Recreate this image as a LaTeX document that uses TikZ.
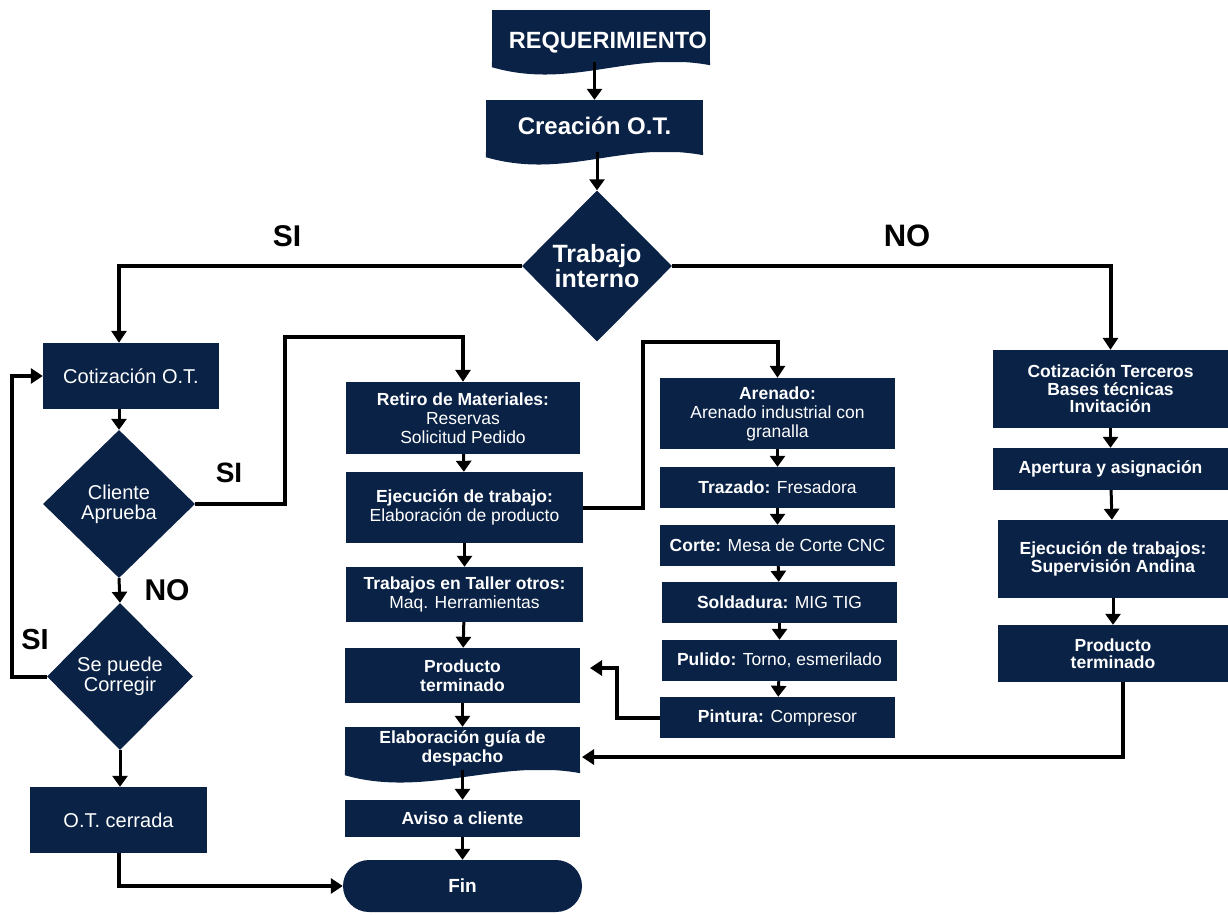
\documentclass[tikz,border=0pt]{standalone}
\usepackage{fontspec}
\setmainfont{Liberation Sans}
\usetikzlibrary{shapes.geometric,arrows.meta,calc}
\definecolor{navy}{HTML}{0A2246}
\newcommand\docwave[1]{\fill[navy] (#1.south west) -- (#1.south east) -- ($(#1.south east)+(0,3)$) .. controls ($(#1.south east)+(-80,-12)$) and ($(#1.south west)+(80,28)$) .. ($(#1.south west)+(0,5)$) -- cycle;}
\tikzset{
  box/.style={rectangle, fill=navy, text=white, align=center, inner sep=1pt, font=\fontsize{17.5}{19}\selectfont},
  rbox/.style={box, font=\fontsize{17.5}{17.5}\selectfont\bfseries},
  dia/.style={diamond, fill=navy, text=white, align=center, inner sep=0pt, font=\fontsize{20}{20}\selectfont},
  lbl/.style={text=black, inner sep=0pt, font=\fontsize{30}{30}\selectfont\bfseries},
  flow/.style={draw=black, line width=3pt, -{Triangle[width=15pt,length=11pt]}},
  conn/.style={draw=black, line width=4pt, -{Triangle[width=15pt,length=12pt]}},
  plain/.style={draw=black, line width=4pt}
}
\begin{document}
\begin{tikzpicture}[x=1pt,y=-1pt]
\useasboundingbox[fill=white] (0,0) rectangle (1228,914);

% top
\node[box, minimum width=218pt, minimum height=52pt, text height=25pt, text depth=0pt, font=\fontsize{23.5}{24}\selectfont\bfseries] (req) at (601,36) {\hspace*{14pt}REQUERIMIENTO};
\docwave{req}
\node[box, minimum width=217pt, minimum height=52pt, font=\fontsize{24}{24}\selectfont\bfseries] (crea) at (594.5,126) {Creación O.T.};
\docwave{crea}
\node[dia, minimum width=150pt, minimum height=151pt, font=\fontsize{25}{25}\selectfont\bfseries] (ti) at (597,266) {Trabajo\\interno};

% left column
\node[box, minimum width=176pt, minimum height=66pt, font=\fontsize{20}{20}\selectfont] (cot) at (131,376) {Cotización O.T.};
\node[dia, minimum width=152pt, minimum height=148pt] (cli) at (119,504) {Cliente\\Aprueba};
\node[dia, minimum width=146pt, minimum height=147pt] (spc) at (120,676.5) {Se puede\\Corregir};
\node[box, minimum width=177pt, minimum height=66pt, font=\fontsize{20}{20}\selectfont] (otc) at (118.5,820) {O.T. cerrada};

% central column
\node[box, minimum width=234pt, minimum height=72pt] (ret) at (463,418) {\textbf{Retiro de Materiales:}\\Reservas\\Solicitud Pedido};
\node[box, minimum width=237pt, minimum height=71pt] (eje) at (464.5,507.5) {\textbf{Ejecución de trabajo:}\\Elaboración de producto};
\node[box, minimum width=237pt, minimum height=55pt] (tal) at (464.5,594.5) {\textbf{Trabajos en Taller otros:}\\Maq. Herramientas};
\node[box, minimum width=235pt, minimum height=55pt, font=\fontsize{17.5}{19}\selectfont\bfseries] (prod) at (462.5,675.5) {Producto\\terminado};
\node[box, minimum width=235pt, minimum height=43pt, font=\fontsize{17.5}{19}\selectfont\bfseries] (guia) at (462.5,748.5) {Elaboración guía de\\despacho};
\docwave{guia}
\node[box, minimum width=235pt, minimum height=37pt, font=\fontsize{17.5}{19}\selectfont\bfseries] (avi) at (462.5,818.5) {Aviso a cliente};
\node[box, minimum width=239pt, minimum height=52pt, rounded corners=26pt, font=\fontsize{19}{19}\selectfont\bfseries] (fin) at (462.5,886) {Fin};

% middle column
\node[box, minimum width=235pt, minimum height=71pt] (are) at (777.5,413.5) {\textbf{Arenado:}\\Arenado industrial con\\granalla};
\node[box, minimum width=235pt, minimum height=41pt] (traz) at (777.5,487.5) {\textbf{Trazado:} Fresadora};
\node[box, minimum width=235pt, minimum height=41pt] (cor) at (777.5,545.5) {\textbf{Corte:} Mesa de Corte CNC};
\node[box, minimum width=235pt, minimum height=41pt] (sol) at (779.5,602.5) {\textbf{Soldadura:} MIG TIG};
\node[box, minimum width=235pt, minimum height=41pt] (pul) at (779.5,660.5) {\textbf{Pulido:} Torno, esmerilado};
\node[box, minimum width=235pt, minimum height=41pt] (pin) at (777.5,717.5) {\textbf{Pintura:} Compresor};

% right column
\node[rbox, minimum width=235pt, minimum height=78pt] (ct) at (1110.5,389) {Cotización Terceros\\Bases técnicas\\Invitación};
\node[rbox, minimum width=235pt, minimum height=42pt] (ap) at (1110.5,469) {Apertura y asignación};
\node[rbox, minimum width=230pt, minimum height=78pt] (et) at (1113,559) {Ejecución de trabajos:\\Supervisión Andina};
\node[rbox, minimum width=230pt, minimum height=57pt] (pt) at (1113,653.5) {Producto\\terminado};

% labels
\node[lbl] (siA) at (287,236) {SI};
\node[lbl, font=\fontsize{31}{31}\selectfont\bfseries] (noA) at (907,236) {NO};
\node[lbl, font=\fontsize{28}{28}\selectfont\bfseries] (siB) at (229,473) {SI};
\node[lbl] (noB) at (167,590) {NO};
\node[lbl, font=\fontsize{29}{29}\selectfont\bfseries] (siC) at (35,640) {SI};

% helper coordinates
\coordinate (loopL) at (12,500);
\coordinate (jl) at (285,337);
\coordinate (jm) at (643,342);
\coordinate (jp) at (617,668);
\coordinate (ptip) at (590,668);
\coordinate (rtip) at (582,757);

% connectors
\draw[flow] (crea.north |- req.south) -- (crea.north);
\draw[flow] (ti.north |- crea.south) -- (ti.north);
\draw[conn] (ti.west) -| (cli.north |- cot.north);
\draw[conn] (ti.east) -| (ct.north);

\draw[flow] (cli.north |- cot.south) -- (cli.north);
\draw[flow] (cli.south) -- (spc.north);
\draw[conn] (spc.west) -- (spc.west -| loopL) |- (cot.west);
\draw[flow] (spc.south) -- (spc.south |- otc.north);
\draw[conn] (otc.south) |- (fin.west);
\draw[conn] (cli.east) -| (jl) -| (ret.north);

\draw[flow] (ret) -- (eje);
\draw[flow] (eje) -- (tal);
\draw[flow] (tal) -- (prod);
\draw[flow] (prod) -- (guia);
\draw[flow] (guia) -- (avi);
\draw[flow] (avi) -- (fin);

\draw[conn] (eje.east) -| (jm) -| (are.north);
\draw[flow] (are) -- (traz);
\draw[flow] (traz) -- (cor);
\draw[flow] (cor) -- (sol);
\draw[flow] (sol) -- (pul);
\draw[flow] (pul) -- (pin);
\draw[conn] (pin.west) -| (jp) -- (ptip);

\draw[flow] (ct) -- (ap);
\draw[flow] (ap) -- (et);
\draw[flow] (et) -- (pt);
\draw[conn] ([xshift=10pt]pt.south) |- (rtip);
\end{tikzpicture}
\end{document}
